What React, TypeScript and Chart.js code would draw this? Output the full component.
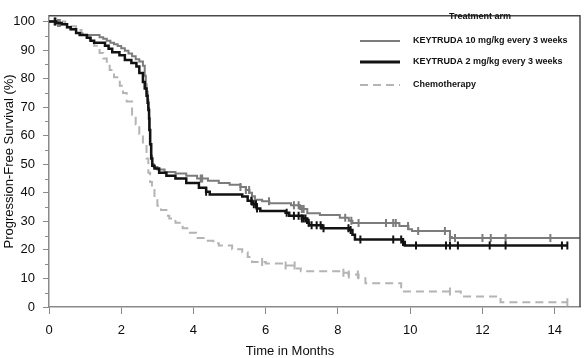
import React, { useEffect, useRef } from "react";
import { Chart, registerables } from "chart.js";

Chart.register(...registerables);

// ---- Data ----
const xTickValues = [0, 2, 4, 6, 8, 10, 12, 14];
const yTickValues = [0, 10, 20, 30, 40, 50, 60, 70, 80, 90, 100];
const legendTitle = "Treatment arm";
const seriesLabels = [
  "KEYTRUDA 10 mg/kg every 3 weeks",
  "KEYTRUDA 2 mg/kg every 3 weeks",
  "Chemotherapy",
];
const xAxisTitle = "Time in Months";
const yAxisTitle = "Progression-Free Survival (%)";

// Kaplan-Meier curves: [months, survival %]
const keytruda10: [number, number][] = [
  [0, 100], [0.2, 99.5], [0.35, 99], [0.5, 98], [0.6, 97.3], [0.75, 96], [0.9, 95.3],
  [1.4, 94.5], [1.5, 94], [1.6, 93.3], [1.7, 92.6], [1.8, 92], [1.9, 91.4], [2.0, 90.6],
  [2.1, 89.8], [2.2, 88.8], [2.3, 87.8], [2.4, 86.8], [2.5, 86], [2.6, 84.5], [2.65, 81],
  [2.68, 78], [2.7, 75.4], [2.73, 72.5], [2.75, 69.7], [2.77, 66], [2.78, 62], [2.8, 57],
  [2.82, 53], [2.85, 50], [2.9, 49], [3.0, 48.2], [3.2, 47.3], [3.5, 46.8], [3.8, 46],
  [4.1, 45], [4.4, 44.2], [4.7, 43.4], [5.0, 42.8], [5.3, 42], [5.45, 41], [5.55, 40],
  [5.62, 38.8], [5.7, 37.6], [5.9, 37], [6.1, 36.3], [6.7, 35.6], [6.95, 34.3], [7.15, 32.8],
  [7.5, 32.2], [8.05, 31.3], [8.3, 30.2], [8.4, 29.4], [9.7, 28.4], [9.95, 27.2], [10.05, 26.6],
  [11.1, 24.5], [11.15, 24.2], [14.7, 24.2],
];
const keytruda2: [number, number][] = [
  [0, 100], [0.2, 99.5], [0.35, 99], [0.5, 98], [0.6, 97.3], [0.75, 96], [0.85, 95.3],
  [1.05, 94.3], [1.15, 93.3], [1.25, 92.6], [1.55, 91.5], [1.65, 90.5], [1.75, 89.2],
  [1.95, 88.2], [2.1, 86.5], [2.28, 85.5], [2.42, 84.2], [2.5, 82], [2.6, 78.8], [2.65, 76.5],
  [2.7, 74], [2.73, 71.5], [2.75, 69], [2.77, 66], [2.78, 62], [2.8, 57], [2.83, 52],
  [2.86, 49.5], [2.92, 48.5], [3.05, 47], [3.25, 46], [3.5, 45], [3.8, 43.4], [4.15, 41.8],
  [4.35, 40.4], [4.45, 39.4], [5.35, 38.7], [5.5, 37.2], [5.62, 36], [5.75, 34.5],
  [5.85, 33.6], [6.55, 33.0], [6.65, 32], [7.0, 31], [7.15, 29.5], [7.2, 28.6], [7.55, 27.6],
  [8.3, 27], [8.4, 25.3], [8.47, 23.6], [9.8, 22.8], [9.85, 21.5], [14.35, 21.5],
];
const chemotherapy: [number, number][] = [
  [0, 100], [0.3, 100], [0.45, 99], [0.58, 98.3], [0.75, 97], [0.9, 95.8], [1.0, 94.5],
  [1.13, 93], [1.25, 91.5], [1.4, 89], [1.5, 87], [1.6, 85], [1.68, 83], [1.8, 80.5],
  [1.96, 77.5], [2.05, 75], [2.15, 72], [2.3, 67.3], [2.4, 64], [2.5, 60.6], [2.6, 57],
  [2.7, 52], [2.75, 47], [2.8, 43.8], [2.85, 41], [2.92, 38.4], [3.0, 35.5], [3.1, 34],
  [3.25, 32], [3.33, 31], [3.5, 29.5], [3.7, 27.6], [3.9, 26], [4.07, 24.2], [4.35, 23.2],
  [4.55, 22.3], [4.7, 21.5], [5.07, 20.2], [5.35, 19.2], [5.5, 17.5], [5.62, 15.8],
  [6.0, 15.2], [6.45, 14.5], [6.83, 13.5], [6.97, 12.5], [8.15, 12], [8.29, 11.4],
  [8.57, 10.1], [8.76, 8.3], [9.75, 5.4], [11.4, 3.7], [12.5, 1.7], [14.35, 1.7],
];

// Censoring times (months)
const keytruda10Censored = [
  0.15, 0.25, 0.3, 4.2, 4.24, 5.3, 5.45, 5.54, 5.62, 6.09, 6.78, 6.91, 7.0, 7.05, 8.2,
  8.37, 8.57, 9.33, 9.53, 9.6, 9.94, 10.22, 10.96, 11.1, 11.24, 12.0, 12.23, 12.64, 13.88,
];
const keytruda2Censored = [
  0.17, 4.35, 5.6, 5.67, 5.73, 5.76, 6.58, 6.78, 6.91, 7.0, 7.05, 7.1, 7.19, 7.27, 7.41,
  7.52, 7.6, 8.29, 8.35, 8.62, 9.53, 9.75, 9.8, 10.16, 10.99, 11.1, 11.32, 12.2, 12.64,
  14.2, 14.35,
];
const chemotherapyCensored = [0.2, 5.9, 6.55, 6.8, 8.15, 8.3, 8.55, 11.1, 14.35];

// ---- Styles ----
const COLOR_K10 = "#7c7c7c";
const COLOR_K2 = "#121212";
const COLOR_CHEMO = "#b4b4b4";
const CHEMO_DASH = [8, 5];
const TEXT_COLOR = "#0c0c0c";
const FONT = '"Liberation Sans", Arial, Helvetica, sans-serif';

function survivalAt(curve: [number, number][], t: number): number {
  let s = curve[0][1];
  for (const [x, y] of curve) {
    if (x <= t) s = y;
    else break;
  }
  return s;
}

function toPoints(curve: [number, number][]) {
  return curve.map(([x, y]) => ({ x, y }));
}

function censorPoints(curve: [number, number][], times: number[]) {
  return times.map((t) => ({ x: t, y: survivalAt(curve, t) }));
}

const decorPlugin = {
  id: "decor",
  afterDraw(chart: any) {
    const { ctx, chartArea, scales } = chart;
    const yScale = scales.y;
    ctx.save();
    // top and right frame
    ctx.strokeStyle = "#4a4a4a";
    ctx.lineWidth = 1.5;
    ctx.beginPath();
    ctx.moveTo(chartArea.left, chartArea.top);
    ctx.lineTo(chartArea.right, chartArea.top);
    ctx.lineTo(chartArea.right, chartArea.bottom);
    ctx.stroke();

    // minor y ticks
    ctx.strokeStyle = "#8a8a8a";
    ctx.lineWidth = 1;
    for (let v = 5; v < 100; v += 10) {
      const py = Math.round(yScale.getPixelForValue(v)) + 0.5;
      ctx.beginPath();
      ctx.moveTo(chartArea.left - 4, py);
      ctx.lineTo(chartArea.left, py);
      ctx.stroke();
    }

    // axis titles
    ctx.fillStyle = TEXT_COLOR;
    ctx.font = `13px ${FONT}`;
    ctx.textAlign = "center";
    ctx.textBaseline = "middle";
    ctx.fillText(xAxisTitle, 290, 351);
    ctx.save();
    ctx.translate(9, (chartArea.top + chartArea.bottom) / 2);
    ctx.rotate(-Math.PI / 2);
    ctx.fillText(yAxisTitle, 0, 0);
    ctx.restore();

    // legend
    ctx.font = `bold 9px ${FONT}`;
    ctx.fillStyle = "#111";
    ctx.textAlign = "center";
    ctx.fillText(legendTitle, 480, 17);
    const items = [
      { y: 41, color: COLOR_K10, width: 2, dash: [] as number[] },
      { y: 62, color: COLOR_K2, width: 3, dash: [] as number[] },
      { y: 85, color: COLOR_CHEMO, width: 2, dash: CHEMO_DASH },
    ];
    items.forEach((it, i) => {
      ctx.strokeStyle = it.color;
      ctx.lineWidth = it.width;
      ctx.setLineDash(it.dash);
      ctx.beginPath();
      ctx.moveTo(360, it.y);
      ctx.lineTo(400, it.y);
      ctx.stroke();
      ctx.setLineDash([]);
      ctx.textAlign = "left";
      ctx.fillStyle = "#111";
      ctx.fillText(seriesLabels[i], 413, it.y);
    });
    ctx.restore();
  },
};

export default function App() {
  const canvasRef = useRef<HTMLCanvasElement | null>(null);

  useEffect(() => {
    document.body.style.margin = "0";
    const canvas = canvasRef.current;
    if (!canvas) return;

    const lineDs = (label: string, curve: [number, number][], color: string, width: number, dash: number[] = []) => ({
      label,
      data: toPoints(curve),
      stepped: "before" as const,
      borderColor: color,
      borderWidth: width,
      borderDash: dash,
      pointRadius: 0,
      fill: false,
      tension: 0,
    });
    const censorDs = (label: string, curve: [number, number][], times: number[], color: string) => ({
      label,
      data: censorPoints(curve, times),
      showLine: false,
      pointStyle: "line" as const,
      rotation: 90,
      pointRadius: 4,
      pointBorderWidth: 2,
      pointBorderColor: color,
      pointBackgroundColor: color,
      borderColor: color,
    });

    const chart = new Chart(canvas, {
      type: "line",
      data: {
        datasets: [
          censorDs("k2c", keytruda2, keytruda2Censored, COLOR_K2),
          lineDs(seriesLabels[1], keytruda2, COLOR_K2, 2.5),
          censorDs("k10c", keytruda10, keytruda10Censored, COLOR_K10),
          lineDs(seriesLabels[0], keytruda10, COLOR_K10, 2),
          censorDs("chc", chemotherapy, chemotherapyCensored, COLOR_CHEMO),
          lineDs(seriesLabels[2], chemotherapy, COLOR_CHEMO, 2, CHEMO_DASH),
        ] as any,
      },
      options: {
        animation: false,
        responsive: false,
        maintainAspectRatio: false,
        devicePixelRatio: 1,
        layout: { padding: { top: 4, right: 3, left: 0, bottom: 0 } },
        plugins: {
          legend: { display: false },
          tooltip: { enabled: false },
          title: { display: false },
        },
        scales: {
          x: {
            type: "linear",
            min: 0,
            max: 14.7,
            afterFit: (scale: any) => {
              scale.height = 51;
            },
            afterBuildTicks: (scale: any) => {
              scale.ticks = xTickValues.map((v) => ({ value: v }));
            },
            ticks: {
              font: { family: FONT, size: 13 },
              color: TEXT_COLOR,
              padding: 9,
              maxRotation: 0,
              autoSkip: false,
            },
            grid: {
              display: true,
              drawOnChartArea: false,
              drawTicks: true,
              tickLength: 7,
              color: "#8a8a8a",
            },
            border: { display: true, color: "#8a8a8a", width: 1.5 },
          },
          y: {
            type: "linear",
            min: 0,
            max: 102,
            afterFit: (scale: any) => {
              scale.width = 49;
            },
            afterBuildTicks: (scale: any) => {
              scale.ticks = yTickValues.map((v) => ({ value: v }));
            },
            ticks: {
              font: { family: FONT, size: 13 },
              color: TEXT_COLOR,
              padding: 8,
              autoSkip: false,
            },
            grid: {
              display: true,
              drawOnChartArea: false,
              drawTicks: true,
              tickLength: 6,
              color: "#8a8a8a",
            },
            border: { display: true, color: "#8a8a8a", width: 1.5 },
          },
        },
      } as any,
      plugins: [decorPlugin],
    });

    return () => chart.destroy();
  }, []);

  return (
    <div style={{ width: 586, height: 358, background: "#fff" }}>
      <canvas ref={canvasRef} width={586} height={358} style={{ display: "block", width: 586, height: 358 }} />
    </div>
  );
}
